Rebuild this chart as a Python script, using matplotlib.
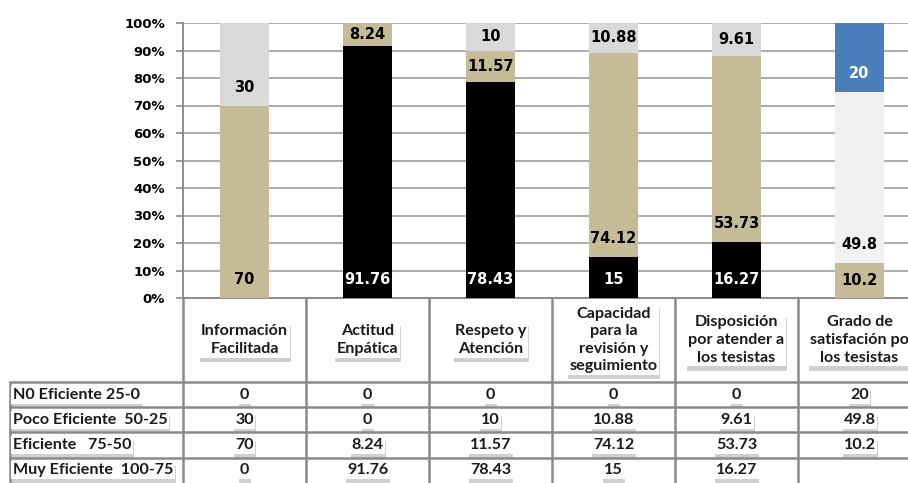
import matplotlib
matplotlib.use("Agg")
import matplotlib.pyplot as plt
import matplotlib.patheffects as pe
import numpy as np

categories = ["Información\nFacilitada", "Actitud\nEnpática", "Respeto y\nAtención",
              "Capacidad\npara la\nrevisión y\nseguimiento", "Disposición\npor atender a\nlos tesistas",
              "Grado de\nsatisfación po\nlos tesistas"]
series_names = ["N0 Eficiente 25-0", "Poco Eficiente  50-25", "Eficiente   75-50", "Muy Eficiente  100-75"]
no_eficiente = [0, 0, 0, 0, 0, 20]
poco_eficiente = [30, 0, 10, 10.88, 9.61, 49.8]
eficiente = [70, 8.24, 11.57, 74.12, 53.73, 10.2]
muy_eficiente = [0, 91.76, 78.43, 15, 16.27, None]
table_text = [
    ["0", "0", "0", "0", "0", "20"],
    ["30", "0", "10", "10.88", "9.61", "49.8"],
    ["70", "8.24", "11.57", "74.12", "53.73", "10.2"],
    ["0", "91.76", "78.43", "15", "16.27", ""],
]
yticks = [0, 10, 20, 30, 40, 50, 60, 70, 80, 90, 100]

W, H = 908, 483
fig = plt.figure(figsize=(W / 100, H / 100), dpi=100)
fig.patch.set_facecolor("white")

ax_l, ax_r, ax_t, ax_b = 183, 921, 23, 298
ax = fig.add_axes([ax_l / W, (H - ax_b) / H, (ax_r - ax_l) / W, (ax_b - ax_t) / H])

# stacking order bottom -> top: Muy, Eficiente, Poco, NO
stack = [
    (muy_eficiente, ["#000000"] * 6, "white"),
    (eficiente, ["#c6bb97"] * 6, "black"),
    (poco_eficiente, ["#d9d9d9"] * 5 + ["#f1f1f1"], "black"),
    (no_eficiente, ["#4a7ebb"] * 6, "white"),
]
vals = np.array([[0 if v is None else v for v in s[0]] for s in stack], dtype=float)
totals = vals.sum(axis=0)
pct = vals / totals * 100
x = np.arange(len(categories))
bw = 0.395
bottom = np.zeros(len(categories))
off = 18 / (ax_b - ax_t) * 100
for i, (raw, cols, tcol) in enumerate(stack):
    ax.bar(x, pct[i], bw, bottom=bottom, color=cols, zorder=3, linewidth=0)
    for j in range(len(categories)):
        if vals[i, j] > 0:
            b = bottom[j]
            t = b + pct[i, j]
            ly = min(b + off, (b + t) / 2)
            lab = f"{raw[j]:g}"
            ax.text(x[j], ly, lab, ha="center", va="center", color=tcol,
                    fontsize=10.5, fontweight="bold", family="DejaVu Sans", zorder=5)
    bottom += pct[i]

ax.set_xlim(-0.5, len(categories) - 0.5)
ax.set_ylim(0, 100)
ax.set_yticks(yticks)
ax.set_yticklabels([f"{v}%" for v in yticks], fontsize=9.5, fontweight="bold", family="DejaVu Sans")
ax.set_xticks([])
ax.grid(axis="y", color="#a6a6a6", linewidth=1.3, zorder=0)
ax.tick_params(axis="y", length=5, width=1.2, color="#8c8c8c", pad=8)
for s in ["top", "right"]:
    ax.spines[s].set_visible(False)
for s in ["left", "bottom"]:
    ax.spines[s].set_color("#8c8c8c")
    ax.spines[s].set_linewidth(1.4)

# data table
tl = 10
ta = fig.add_axes([tl / W, 0, (ax_r - tl) / W, (H - ax_b) / H])
x0 = -0.5 - (ax_l - tl) / 123.0
ta.set_xlim(x0, len(categories) - 0.5)
ta.set_ylim(H - ax_b, 0)
ta.axis("off")
lc = "#8a8a8a"
lw = 1.8
row_lines = [84, 109, 134, 160]
for k in range(len(categories) + 1):
    ta.plot([k - 0.5, k - 0.5], [0, 190], color=lc, lw=lw, clip_on=False, solid_capstyle="butt")
ta.plot([x0, x0], [84, 190], color=lc, lw=lw, clip_on=False, solid_capstyle="butt")
for yl in row_lines:
    ta.plot([x0, len(categories) - 0.5], [yl, yl], color=lc, lw=lw, clip_on=False)


def boxed(t):
    p = t.get_bbox_patch()
    p.set_path_effects([pe.SimplePatchShadow(offset=(0.5, -3), shadow_rgbFace="#8a8a8a", alpha=0.4),
                        pe.Normal()])


tfont = dict(family="Lato", fontweight="bold", fontsize=11.6)
for j, c in enumerate(categories):
    t = ta.text(j, 42, c, ha="center", va="center", linespacing=1.32, color="#1a1a1a",
                bbox=dict(boxstyle="square,pad=0.12", fc="white", ec="none"), **tfont)
    boxed(t)

row_centers = [97, 122, 147, 172]
for r, name in enumerate(series_names):
    t = ta.text(x0 + 3 / 123, row_centers[r], name, ha="left", va="center", color="#1a1a1a",
                bbox=dict(boxstyle="square,pad=0.1", fc="white", ec="none"), **tfont)
    boxed(t)
    for j in range(len(categories)):
        s = table_text[r][j]
        if s:
            t = ta.text(j, row_centers[r], s, ha="center", va="center", color="#1a1a1a",
                        bbox=dict(boxstyle="square,pad=0.1", fc="white", ec="none"), **tfont)
            boxed(t)

fig.savefig("out.png", dpi=100)
